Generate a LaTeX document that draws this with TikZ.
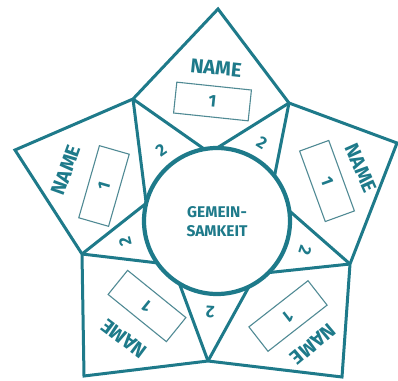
\documentclass[tikz,border=0pt]{standalone}
\usepackage{fontspec}
\setmainfont{Fira Sans}
\definecolor{teal1}{RGB}{30,122,138}
\definecolor{tealbox}{RGB}{80,138,148}
\begin{document}
\begin{tikzpicture}[x=1pt,y=-1pt,
  edge/.style={draw=teal1,line width=3pt,line join=miter},
  ring/.style={draw=teal1,line width=4.2pt},
  namebox/.style={draw=tealbox,line width=1.1pt,minimum width=75pt,minimum height=31pt,inner sep=0pt,
    text=teal1,font=\fontsize{17}{17}\selectfont\bfseries},
  namelbl/.style={text=teal1,font=\fontsize{20}{20}\selectfont\bfseries,inner sep=0pt},
  numlbl/.style={text=teal1,font=\fontsize{17}{17}\selectfont\bfseries,inner sep=0pt},
  centerlbl/.style={text=teal1,font=\fontsize{15.5}{19}\selectfont\bfseries,align=center,inner sep=0pt}]
\useasboundingbox (0,0) rectangle (398,380);
% outer star vertices
\coordinate (T1) at (218,9);
\coordinate (V2) at (289,103);
\coordinate (T2) at (397,143);
\coordinate (V3) at (350,264);
\coordinate (T3) at (342,377);
\coordinate (V4) at (208,361);
\coordinate (T4) at (84,376);
\coordinate (V5) at (82,254);
\coordinate (T5) at (15,150);
\coordinate (V1) at (133,99);
% points on the circle
\coordinate (O) at (217,221);
\coordinate (A1) at (204.3,149.1);
\coordinate (A2) at (217,148);
\coordinate (B) at (274.5,176.1);
\coordinate (C) at (289.3,210.8);
\coordinate (D) at (268.6,272.6);
\coordinate (E2) at (249.0,286.6);
\coordinate (E1) at (179.4,283.6);
\coordinate (F) at (157.2,262.9);
\coordinate (G) at (146.2,203.3);
% outline
\draw[edge] (T1) -- (V2) -- (T2) -- (V3) -- (T3) -- (V4) -- (T4) -- (V5) -- (T5) -- (V1) -- cycle;
% spokes
\draw[edge] (V1) -- (A1);
\draw[edge] (V1) -- (G);
\draw[edge] (V2) -- (A2);
\draw[edge] (V2) -- (B);
\draw[edge] (V3) -- (C);
\draw[edge] (V3) -- (D);
\draw[edge] (V4) -- (E2);
\draw[edge] (V4) -- (E1);
\draw[edge] (V5) -- (F);
\draw[edge] (V5) -- (G);
% circle
\node[ring,fill=white,circle,minimum size=146pt,inner sep=0pt] (ring) at (O) {};
\node[centerlbl] (center) at (217,222) {GEMEIN-\\SAMKEIT};
% name boxes with number 1
\node[namebox,rotate=-6] (b1) at (212.5,101.5) {1};
\node[namebox,rotate=-70] (b2) at (327,181) {1};
\node[namebox,rotate=-142] (b3) at (288,316) {1};
\node[namebox,rotate=141] (b4) at (147,306) {1};
\node[namebox,rotate=74] (b5) at (104,186) {1};
% names
\node[namelbl,rotate=-6] (m1) at (216,68) {NAME};
\node[namelbl,rotate=-66] (m2) at (361,168) {NAME};
\node[namelbl,rotate=-140] (m3) at (313,344) {NAME};
\node[namelbl,rotate=143] (m4) at (124,339) {NAME};
\node[namelbl,rotate=70] (m5) at (66,170) {NAME};
% twos
\node[numlbl,rotate=35] (t1) at (161,150) {2};
\node[numlbl,rotate=-32] (t2) at (262,143) {2};
\node[numlbl,rotate=-108] (t3) at (305,250) {2};
\node[numlbl,rotate=176] (t4) at (210,312) {2};
\node[numlbl,rotate=104] (t5) at (125,242) {2};
\end{tikzpicture}
\end{document}
